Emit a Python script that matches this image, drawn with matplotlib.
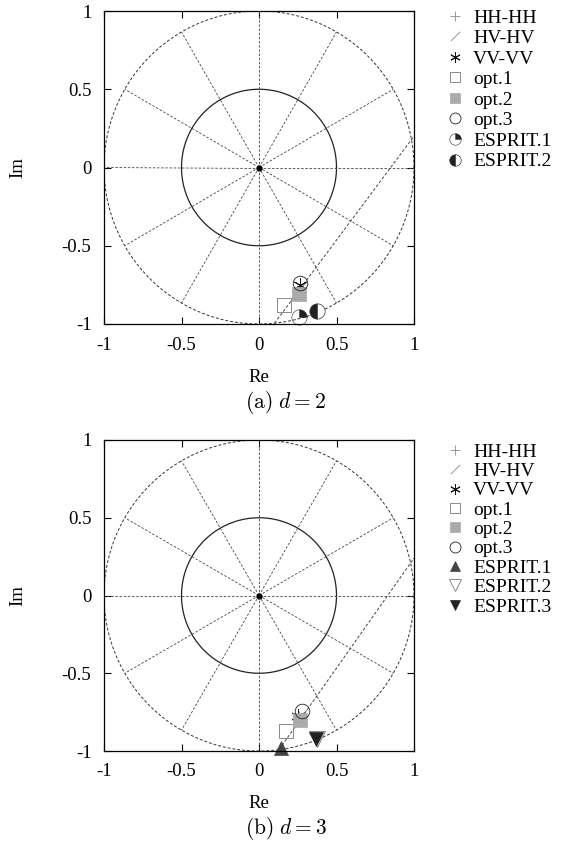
import numpy as np
import matplotlib
matplotlib.use("Agg")
import matplotlib.pyplot as plt
from matplotlib.path import Path
from matplotlib.legend_handler import HandlerTuple

plt.rcParams['font.family'] = ['Liberation Serif', 'DejaVu Serif']
plt.rcParams['mathtext.fontset'] = 'cm'
plt.rcParams['axes.unicode_minus'] = False

# ---------------- data ----------------
ticks = [-1, -0.5, 0, 0.5, 1]
tick_labels = ["-1", "-0.5", "0", "0.5", "1"]
radial_angles_deg = [0, 30, 60, 90, 120, 150, 180, 210, 240, 270, 300, 330]
inner_radius = 0.5

# panel (a), d = 2
a_hh = (0.255, -0.790)
a_hv = (0.270, -0.765)
a_vv = (0.262, -0.752)
a_opt1 = (0.163, -0.878)
a_opt2 = (0.255, -0.808)
a_opt3 = (0.266, -0.739)
a_esprit1 = (0.258, -0.955)
a_esprit2 = (0.377, -0.915)
a_line_x = [0.10, 1.0]
a_line_y = [-0.995, 0.20]

# panel (b), d = 3
b_hh = (0.255, -0.790)
b_hv = (0.270, -0.770)
b_vv = (0.250, -0.778)
b_opt1 = (0.172, -0.874)
b_opt2 = (0.264, -0.799)
b_opt3 = (0.279, -0.742)
b_esprit1 = (0.139, -0.980)
b_esprit2 = (0.372, -0.925)
b_esprit3 = (0.368, -0.920)
b_line_x = [0.13, 1.0]
b_line_y = [-0.99, 0.24]

W, H = 567, 841
fig = plt.figure(figsize=(W / 100, H / 100), dpi=100)

slash = Path([(-1, -1), (1, 1)], [Path.MOVETO, Path.LINETO])
wedge = Path.wedge(0, 90)

dash = (0, (3, 2))


def base(ax, line_x, line_y):
    t = np.linspace(0, 2 * np.pi, 400)
    ax.plot(np.cos(t), np.sin(t), color='#333333', lw=0.7, ls=dash)
    ax.plot(inner_radius * np.cos(t), inner_radius * np.sin(t), color='#222222', lw=0.9)
    for a in radial_angles_deg:
        r = np.deg2rad(a)
        ax.plot([0, np.cos(r)], [0, np.sin(r)], color='#444444', lw=0.6, ls=dash)
    ax.plot([0], [0], 'o', color='black', ms=3.5)
    ax.plot(line_x, line_y, color='#444444', lw=0.7, ls=dash)
    ax.set_xlim(-1, 1)
    ax.set_ylim(-1, 1)
    ax.set_xticks(ticks)
    ax.set_xticklabels(tick_labels)
    ax.set_yticks(ticks)
    ax.set_yticklabels(tick_labels)
    ax.tick_params(direction='in', top=True, right=True, length=5, width=0.8,
                   labelsize=13.5, pad=9)
    for s in ax.spines.values():
        s.set_linewidth(0.9)
    ax.text(0.5, -0.17, "Re", transform=ax.transAxes, ha='center', va='center', fontsize=13.5)
    ax.text(-0.277, 0.5, "Im", transform=ax.transAxes, ha='center', va='center',
            fontsize=13.5, rotation=90)


def common_markers(ax, hh, hv, vv, o1, o2, o3):
    h = []
    h.append(ax.plot([hh[0]], [hh[1]], marker='+', ls='none', color='#8a8a8a', ms=10,
                     mew=0.6, clip_on=False, label='HH-HH')[0])
    h.append(ax.plot([hv[0]], [hv[1]], marker=slash, ls='none', color='#8a8a8a', ms=9,
                     mew=0.6, clip_on=False, label='HV-HV')[0])
    h.append(ax.plot([vv[0]], [vv[1]], marker=(6, 2, 0), ls='none', color='#111111', ms=10,
                     mew=0.7, clip_on=False, label='VV-VV')[0])
    h.append(ax.plot([o1[0]], [o1[1]], marker='s', ls='none', mfc='none', mec='#777777',
                     ms=10, mew=0.6, clip_on=False, label='opt.1')[0])
    h.append(ax.plot([o2[0]], [o2[1]], marker='s', ls='none', mfc='#aaaaaa', mec='#aaaaaa',
                     ms=10, mew=0.5, clip_on=False, label='opt.2')[0])
    h.append(ax.plot([o3[0]], [o3[1]], marker='o', ls='none', mfc='none', mec='#222222',
                     ms=10.5, mew=0.6, clip_on=False, label='opt.3')[0])
    return h


def legend(ax, handles, labels, top_px, spacing):
    ax.legend(handles, labels, loc='upper left',
              bbox_to_anchor=(445 / W, 1 - top_px / H), bbox_transform=fig.transFigure,
              frameon=False, borderpad=0, handlelength=1.0, handletextpad=0.45,
              labelspacing=spacing, numpoints=1, markerscale=0.75, fontsize=14,
              handler_map={tuple: HandlerTuple(ndivide=1)}, borderaxespad=0)


# ---------- panel (a) ----------
axa = fig.add_axes([104 / W, 1 - 324 / H, 310 / W, 313 / H])
base(axa, a_line_x, a_line_y)
ha = common_markers(axa, a_hh, a_hv, a_vv, a_opt1, a_opt2, a_opt3)
e1c = axa.plot([a_esprit1[0]], [a_esprit1[1]], marker='o', ls='none', mfc='none',
               mec='#555555', ms=11, mew=0.5, clip_on=False)[0]
e1w = axa.plot([a_esprit1[0]], [a_esprit1[1]], marker=wedge, ls='none', mfc='#222222',
               mec='#222222', ms=11, mew=0.3, clip_on=False)[0]
e2 = axa.plot([a_esprit2[0]], [a_esprit2[1]], marker='o', fillstyle='left', ls='none',
              mfc='#222222', mfcalt='white', mec='#333333', ms=11, mew=0.5, clip_on=False)[0]
legend(axa, ha + [(e1c, e1w), e2],
       ['HH-HH', 'HV-HV', 'VV-VV', 'opt.1', 'opt.2', 'opt.3', 'ESPRIT.1', 'ESPRIT.2'], 9, 0.15)
fig.text(286 / W, 1 - 402 / H, r"$\mathrm{(a)}\ d=2$", ha='center', va='center', fontsize=15.5)

# ---------- panel (b) ----------
axb = fig.add_axes([104 / W, 1 - 751 / H, 310 / W, 311 / H])
base(axb, b_line_x, b_line_y)
hb = common_markers(axb, b_hh, b_hv, b_vv, b_opt1, b_opt2, b_opt3)
f1 = axb.plot([b_esprit1[0]], [b_esprit1[1]], marker='^', ls='none', mfc='#444444',
              mec='#444444', ms=10, mew=0.5, clip_on=False)[0]
f2 = axb.plot([b_esprit2[0]], [b_esprit2[1]], marker='v', ls='none', mfc='none',
              mec='#777777', ms=11.5, mew=0.6, clip_on=False)[0]
f3 = axb.plot([b_esprit3[0]], [b_esprit3[1]], marker='v', ls='none', mfc='#222222',
              mec='#222222', ms=10, mew=0.5, clip_on=False)[0]
legend(axb, hb + [f1, f2, f3],
       ['HH-HH', 'HV-HV', 'VV-VV', 'opt.1', 'opt.2', 'opt.3', 'ESPRIT.1', 'ESPRIT.2',
        'ESPRIT.3'], 443, 0.09)
fig.text(286 / W, 1 - 828 / H, r"$\mathrm{(b)}\ d=3$", ha='center', va='center', fontsize=15.5)

fig.savefig("out.png", dpi=100)
